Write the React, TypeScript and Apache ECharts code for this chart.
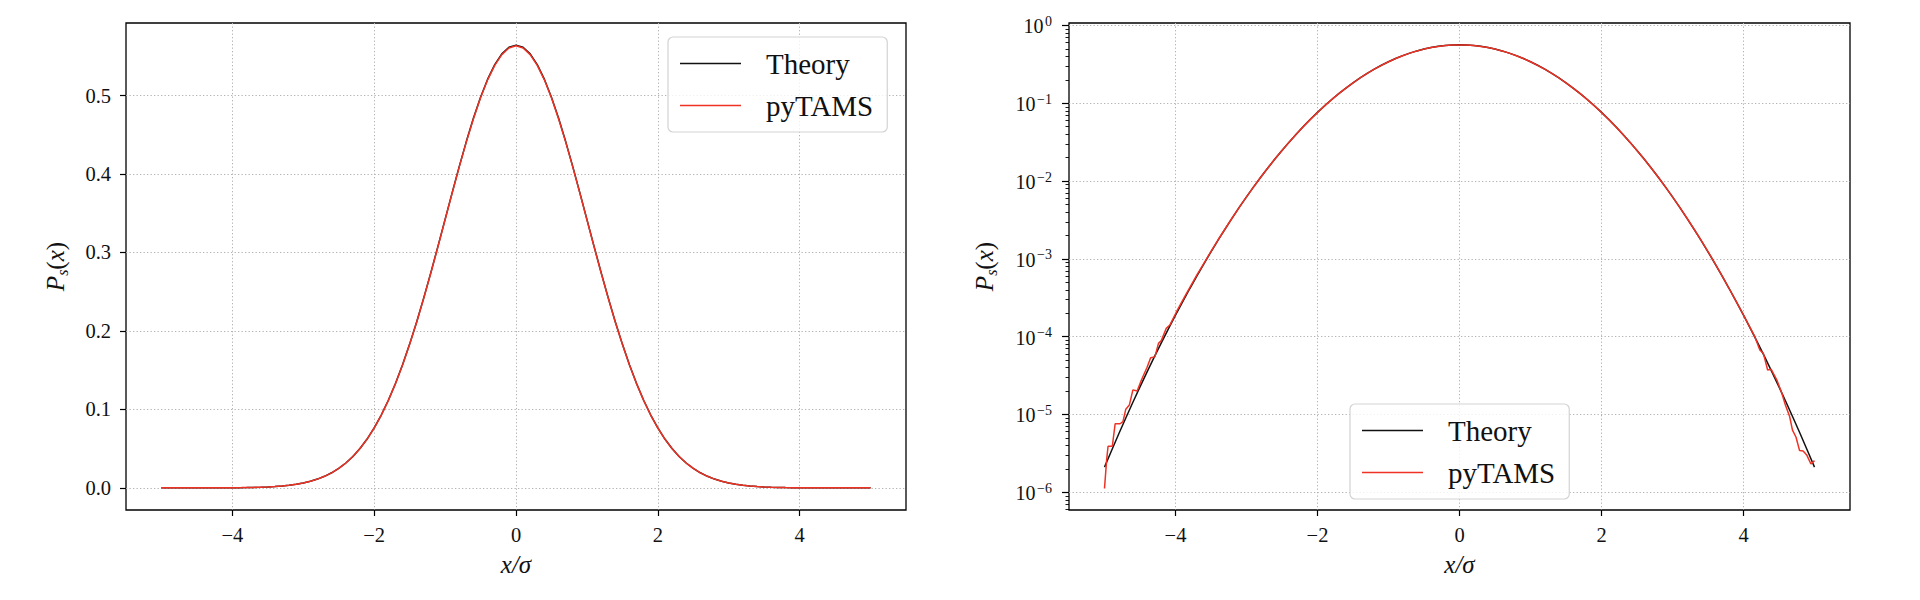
import React, { useEffect, useRef } from "react";
import * as echarts from "echarts";

const FONT = "'Liberation Serif', 'DejaVu Serif', serif";

// Sample positions x/sigma for the theory curve
const THEORY_X = [
  -5.0, -4.9, -4.8, -4.7, -4.6, -4.5, -4.4, -4.3, -4.2, -4.1,
  -4.0, -3.9, -3.8, -3.7, -3.6, -3.5, -3.4, -3.3, -3.2, -3.1,
  -3.0, -2.9, -2.8, -2.7, -2.6, -2.5, -2.4, -2.3, -2.2, -2.1,
  -2.0, -1.9, -1.8, -1.7, -1.6, -1.5, -1.4, -1.3, -1.2, -1.1,
  -1.0, -0.9, -0.8, -0.7, -0.6, -0.5, -0.4, -0.3, -0.2, -0.1,
  0.0,
  0.1, 0.2, 0.3, 0.4, 0.5, 0.6, 0.7, 0.8, 0.9, 1.0,
  1.1, 1.2, 1.3, 1.4, 1.5, 1.6, 1.7, 1.8, 1.9, 2.0,
  2.1, 2.2, 2.3, 2.4, 2.5, 2.6, 2.7, 2.8, 2.9, 3.0,
  3.1, 3.2, 3.3, 3.4, 3.5, 3.6, 3.7, 3.8, 3.9, 4.0,
  4.1, 4.2, 4.3, 4.4, 4.5, 4.6, 4.7, 4.8, 4.9, 5.0,
];

const THEORY_Y = [
  2.103e-6, 3.449e-6, 5.602e-6, 9.009e-6, 1.434e-5, 2.260e-5, 3.527e-5, 5.450e-5, 8.336e-5, 1.262e-4,
  1.893e-4, 2.809e-4, 4.129e-4, 6.008e-4, 8.654e-4, 1.234e-3, 1.743e-3, 2.436e-3, 3.372e-3, 4.620e-3,
  6.268e-3, 8.418e-3, 0.01119, 0.01474, 0.01921, 0.02479, 0.03167, 0.04006, 0.05017, 0.06220,
  0.07636, 0.09280, 0.1117, 0.1330, 0.1569, 0.1832, 0.2118, 0.2424, 0.2746, 0.3081,
  0.3422, 0.3763, 0.4097, 0.4416, 0.4713, 0.4979, 0.5208, 0.5394, 0.5530, 0.5614,
  0.5642,
  0.5614, 0.5530, 0.5394, 0.5208, 0.4979, 0.4713, 0.4416, 0.4097, 0.3763, 0.3422,
  0.3081, 0.2746, 0.2424, 0.2118, 0.1832, 0.1569, 0.1330, 0.1117, 0.09280, 0.07636,
  0.06220, 0.05017, 0.04006, 0.03167, 0.02479, 0.01921, 0.01474, 0.01119, 8.418e-3, 6.268e-3,
  4.620e-3, 3.372e-3, 2.436e-3, 1.743e-3, 1.234e-3, 8.654e-4, 6.008e-4, 4.129e-4, 2.809e-4, 1.893e-4,
  1.262e-4, 8.336e-5, 5.450e-5, 3.527e-5, 2.260e-5, 1.434e-5, 9.009e-6, 5.602e-6, 3.449e-6, 2.103e-6,
];

// pyTAMS estimate (finer in the noisy tails)
const PY_X = [
  -5.0, -4.97, -4.95, -4.89, -4.85, -4.78, -4.74, -4.7, -4.65, -4.6,
  -4.54, -4.48, -4.4, -4.35, -4.29, -4.24, -4.2, -4.13, -4.08, -3.98,
  -3.87, -3.7, -3.6, -3.5, -3.4, -3.3, -3.2, -3.1,
  -3.0, -2.9, -2.8, -2.7, -2.6, -2.5, -2.4, -2.3, -2.2, -2.1,
  -2.0, -1.9, -1.8, -1.7, -1.6, -1.5, -1.4, -1.3, -1.2, -1.1,
  -1.0, -0.9, -0.8, -0.7, -0.6, -0.5, -0.4, -0.3, -0.2, -0.1,
  0.0,
  0.1, 0.2, 0.3, 0.4, 0.5, 0.6, 0.7, 0.8, 0.9, 1.0,
  1.1, 1.2, 1.3, 1.4, 1.5, 1.6, 1.7, 1.8, 1.9, 2.0,
  2.1, 2.2, 2.3, 2.4, 2.5, 2.6, 2.7, 2.8, 2.9, 3.0,
  3.1, 3.2, 3.3, 3.4, 3.5, 3.6, 3.7, 3.8, 3.9, 4.0,
  4.1, 4.16, 4.23, 4.28, 4.34, 4.39, 4.47, 4.54, 4.59, 4.65,
  4.69, 4.74, 4.79, 4.84, 4.89, 4.95, 4.97, 5.0,
];

const PY_Y = [
  1.12e-6, 2.6e-6, 3.9e-6, 3.9e-6, 7.6e-6, 7.6e-6, 8.1e-6, 1.17e-5, 1.32e-5, 2.07e-5,
  2.0e-5, 2.77e-5, 4.05e-5, 5.37e-5, 5.5e-5, 8.2e-5, 8.9e-5, 1.28e-4, 1.41e-4, 2.14e-4,
  3.27e-4, 6.2e-4, 8.75e-4, 1.25e-3, 1.76e-3, 2.44e-3, 3.38e-3, 4.62e-3,
  6.27e-3, 8.41e-3, 0.01118, 0.01472, 0.01918, 0.02475, 0.03162, 0.04000, 0.05010, 0.06212,
  0.07626, 0.09268, 0.1115, 0.1328, 0.1567, 0.1829, 0.2114, 0.2420, 0.2742, 0.3076,
  0.3416, 0.3757, 0.4090, 0.4409, 0.4705, 0.4971, 0.5200, 0.5385, 0.5521, 0.5605,
  0.5633,
  0.5605, 0.5521, 0.5385, 0.5200, 0.4971, 0.4705, 0.4409, 0.4090, 0.3757, 0.3416,
  0.3076, 0.2742, 0.2420, 0.2114, 0.1829, 0.1567, 0.1328, 0.1115, 0.09268, 0.07626,
  0.06212, 0.05010, 0.04000, 0.03162, 0.02475, 0.01918, 0.01472, 0.01118, 8.41e-3, 6.27e-3,
  4.62e-3, 3.38e-3, 2.44e-3, 1.75e-3, 1.24e-3, 8.7e-4, 6.0e-4, 4.1e-4, 2.8e-4, 1.9e-4,
  1.27e-4, 1.0e-4, 6.75e-5, 6.1e-5, 3.73e-5, 3.81e-5, 2.77e-5, 1.87e-5, 1.32e-5, 9.4e-6,
  6.3e-6, 5.1e-6, 3.43e-6, 3.40e-6, 3.02e-6, 2.31e-6, 2.40e-6, 2.55e-6,
];

const X_TICKS = [-4, -2, 0, 2, 4];
const LIN_Y_TICKS = [0, 0.1, 0.2, 0.3, 0.4, 0.5];
const LOG_DECADES = [-6, -5, -4, -3, -2, -1, 0];

const LIN_Y_MIN = -0.0282;
const LIN_Y_MAX = 0.5924;
const LOG_Y_MIN = -6.228;
const LOG_Y_MAX = 0.032;

const TEXT_COLOR = "#111111";
const RED = "#ee3224";
const BLACK = "#111111";

function fmtNum(v: number): string {
  return v < 0 ? "\u2212" + String(-v) : String(v);
}

function buildOption() {
  const minorLog: number[] = [];
  for (let n = -7; n <= 0; n++) {
    for (let k = 2; k <= 9; k++) {
      const v = n + Math.log10(k);
      if (v > LOG_Y_MIN && v < LOG_Y_MAX) minorLog.push(v);
    }
  }

  const theoryLin = THEORY_X.map((x, i) => [x, THEORY_Y[i]]);
  const pyLin = PY_X.map((x, i) => [x, PY_Y[i]]);
  const theoryLog = THEORY_X.map((x, i) => [x, Math.log10(THEORY_Y[i])]);
  const pyLog = PY_X.map((x, i) => [x, Math.log10(PY_Y[i])]);

  const splitLine = {
    show: true,
    lineStyle: { color: "#b3b3b3", width: 1, type: [1.3, 2.2] as any },
  };
  const tick = {
    show: true,
    inside: false,
    length: 6,
    lineStyle: { color: "#000", width: 1.2 },
  };
  const noLine = { show: false, onZero: false };
  const labelStyle = { color: TEXT_COLOR, fontFamily: FONT, fontSize: 20.5 };

  const xAxisBase = (gridIndex: number) => ({
    type: "value",
    gridIndex,
    min: -5.5,
    max: 5.5,
    axisLine: noLine,
    axisTick: { ...tick, customValues: X_TICKS },
    axisLabel: {
      ...labelStyle,
      margin: 14,
      customValues: X_TICKS,
      formatter: (v: number) => fmtNum(v),
    },
    splitLine,
    name: "x/σ",
    nameLocation: "middle",
    nameGap: 42,
    nameTextStyle: {
      fontFamily: FONT,
      fontSize: 25,
      fontStyle: "italic",
      color: TEXT_COLOR,
    },
  });

  const yName = {
    name: "{p|P}{s|s}{r|(}{p|x}{r|)}",
    nameLocation: "middle",
    nameRotate: 90,
    nameTextStyle: {
      color: TEXT_COLOR,
      rich: {
        p: { fontFamily: FONT, fontSize: 25, fontStyle: "italic", lineHeight: 30, verticalAlign: "middle", color: TEXT_COLOR },
        s: { fontFamily: FONT, fontSize: 16, fontStyle: "italic", lineHeight: 16, verticalAlign: "bottom", color: TEXT_COLOR },
        r: { fontFamily: FONT, fontSize: 25, lineHeight: 30, verticalAlign: "middle", color: TEXT_COLOR },
      },
    },
  };

  const legendBase = {
    data: ["Theory", "pyTAMS"],
    orient: "vertical",
    icon: "rect",
    itemWidth: 61,
    itemHeight: 1.6,
    itemGap: 13,
    padding: [12, 14, 12, 12],
    backgroundColor: "rgba(255,255,255,0.8)",
    borderColor: "#d3d3d3",
    borderWidth: 1.2,
    borderRadius: 5,
    selectedMode: false,
    textStyle: {
      fontFamily: FONT,
      fontSize: 29,
      lineHeight: 28,
      color: TEXT_COLOR,
      padding: [0, 0, 0, 20],
    },
  };

  return {
    animation: false,
    backgroundColor: "#ffffff",
    grid: [
      { left: 126, top: 23, width: 780, height: 487, show: true, borderColor: "#000", borderWidth: 1.3, backgroundColor: "transparent" },
      { left: 1069, top: 23, width: 781, height: 487, show: true, borderColor: "#000", borderWidth: 1.3, backgroundColor: "transparent" },
    ],
    legend: [
      { ...legendBase, left: 668, top: 37 },
      { ...legendBase, left: 1350, top: 404 },
    ],
    xAxis: [xAxisBase(0), xAxisBase(1)],
    yAxis: [
      {
        type: "value",
        gridIndex: 0,
        position: "left",
        min: LIN_Y_MIN,
        max: LIN_Y_MAX,
        axisLine: noLine,
        axisTick: { ...tick, customValues: LIN_Y_TICKS },
        axisLabel: {
          ...labelStyle,
          margin: 15,
          customValues: LIN_Y_TICKS,
          formatter: (v: number) => v.toFixed(1),
        },
        splitLine,
        ...yName,
        nameGap: 56,
      },
      {
        type: "value",
        gridIndex: 1,
        position: "left",
        min: LOG_Y_MIN,
        max: LOG_Y_MAX,
        axisLine: noLine,
        axisTick: { ...tick, length: 7, customValues: LOG_DECADES },
        axisLabel: {
          margin: 17,
          customValues: LOG_DECADES,
          formatter: (v: number) =>
            "{b|10}{s|" + (v === 0 ? "0" : "\u2212" + String(-v)) + "}",
          rich: {
            b: { fontFamily: FONT, fontSize: 20, lineHeight: 22, verticalAlign: "bottom", color: TEXT_COLOR },
            s: { fontFamily: FONT, fontSize: 14, lineHeight: 13, verticalAlign: "top", color: TEXT_COLOR, padding: [0, 0, 0, 1.5] },
          },
        },
        splitLine,
        ...yName,
        nameGap: 70,
      },
      {
        type: "value",
        gridIndex: 1,
        position: "left",
        offset: 0,
        min: LOG_Y_MIN,
        max: LOG_Y_MAX,
        axisLine: noLine,
        axisTick: {
          show: true,
          inside: false,
          length: 3.5,
          lineStyle: { color: "#000", width: 0.9 },
          customValues: minorLog,
        },
        axisLabel: { show: false },
        splitLine: { show: false },
      },
    ],
    series: [
      {
        name: "Theory",
        type: "line",
        xAxisIndex: 0,
        yAxisIndex: 0,
        data: theoryLin,
        symbol: "none",
        lineStyle: { color: BLACK, width: 1.5 },
        itemStyle: { color: BLACK },
        silent: true,
      },
      {
        name: "pyTAMS",
        type: "line",
        xAxisIndex: 0,
        yAxisIndex: 0,
        data: pyLin,
        symbol: "none",
        lineStyle: { color: RED, width: 1.5 },
        itemStyle: { color: RED },
        silent: true,
      },
      {
        name: "Theory",
        type: "line",
        xAxisIndex: 1,
        yAxisIndex: 1,
        data: theoryLog,
        symbol: "none",
        lineStyle: { color: BLACK, width: 1.5 },
        itemStyle: { color: BLACK },
        silent: true,
      },
      {
        name: "pyTAMS",
        type: "line",
        xAxisIndex: 1,
        yAxisIndex: 1,
        data: pyLog,
        symbol: "none",
        lineStyle: { color: RED, width: 1.5 },
        itemStyle: { color: RED },
        silent: true,
      },
    ],
  };
}

export default function App() {
  const ref = useRef<HTMLDivElement>(null);
  useEffect(() => {
    if (!ref.current) return;
    const chart = echarts.init(ref.current, undefined, { renderer: "svg" });
    chart.setOption(buildOption() as any);
    return () => chart.dispose();
  }, []);
  return (
    <div
      ref={ref}
      style={{ position: "fixed", left: 0, top: 0, width: 1920, height: 600, background: "#fff" }}
    />
  );
}
